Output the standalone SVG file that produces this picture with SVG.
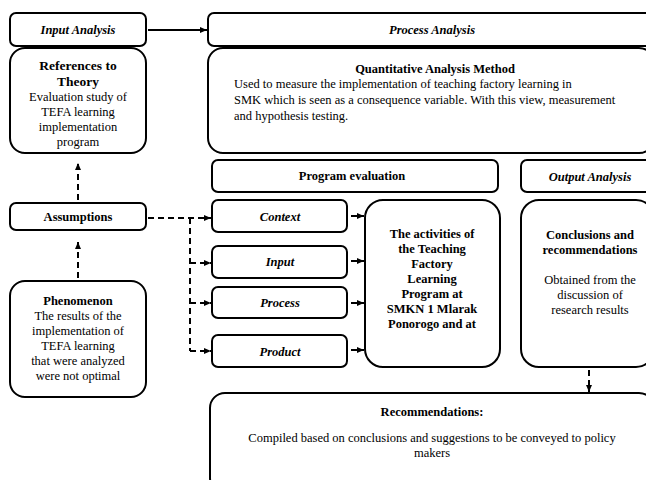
<svg xmlns="http://www.w3.org/2000/svg" width="646" height="480" viewBox="0 0 646 480">
<style>
.box{fill:#fff;stroke:#000;stroke-width:2}
text{font-family:"Liberation Serif","Times New Roman",serif;font-size:12.5px;fill:#000;text-anchor:middle}
.b{font-weight:bold}
.bi{font-weight:bold;font-style:italic}
.l{text-anchor:start}
.c{fill:none;stroke:#000;stroke-width:2}
.d{stroke-dasharray:6,4}
</style>
<defs>
<marker id="ah" markerWidth="8" markerHeight="8" refX="7" refY="4" orient="auto" markerUnits="userSpaceOnUse">
<path d="M0,1 L7,4 L0,7 Z" fill="#000"/>
</marker>
</defs>
<rect width="646" height="480" fill="#fff"/>
<g id="input-analysis"><rect class="box" x="10" y="13" width="136" height="33" rx="6"/><text class="bi" x="78" y="34">Input Analysis</text></g>
<g id="references"><rect class="box" x="10" y="48" width="136" height="105" rx="15"/>
<text class="b" x="78" y="70" style="font-size:13.5px">References to</text>
<text class="b" x="78" y="86" style="font-size:13.5px">Theory</text>
<text x="78" y="101">Evaluation study of</text>
<text x="78" y="116">TEFA learning</text>
<text x="78" y="131">implementation</text>
<text x="78" y="146">program</text></g>
<g id="process-analysis"><rect class="box" x="208" y="13" width="446" height="33" rx="6"/><text class="bi" x="432" y="34">Process Analysis</text></g>
<g id="quantitative"><rect class="box" x="208" y="48" width="446" height="105" rx="15"/>
<text class="b" x="435" y="73">Quantitative Analysis Method</text>
<text class="l" x="234" y="88">Used to measure the implementation of teaching factory learning in</text>
<text class="l" x="234" y="104">SMK which is seen as a consequence variable. With this view, measurement</text>
<text class="l" x="234" y="120">and hypothesis testing.</text></g>
<g id="program-evaluation"><rect class="box" x="212" y="160" width="286" height="32" rx="6"/><text class="b" x="352" y="180">Program evaluation</text></g>
<g id="output-analysis"><rect class="box" x="521" y="160" width="133" height="32" rx="6"/><text class="bi" x="590" y="181">Output Analysis</text></g>
<g id="assumptions"><rect class="box" x="10" y="203" width="136" height="27" rx="6"/><text class="b" x="78" y="221">Assumptions</text></g>
<g id="phenomenon"><rect class="box" x="10" y="281" width="136" height="116" rx="15"/>
<text class="b" x="78" y="305">Phenomenon</text>
<text x="78" y="320">The results of the</text>
<text x="78" y="335">implementation of</text>
<text x="78" y="350">TEFA learning</text>
<text x="78" y="365">that were analyzed</text>
<text x="78" y="380">were not optimal</text></g>
<g id="context"><rect class="box" x="212" y="200" width="135" height="32" rx="6"/><text class="bi" x="280" y="221">Context</text></g>
<g id="input"><rect class="box" x="212" y="246" width="135" height="32" rx="6"/><text class="bi" x="280" y="266">Input</text></g>
<g id="process"><rect class="box" x="212" y="287" width="135" height="31" rx="6"/><text class="bi" x="280" y="307">Process</text></g>
<g id="product"><rect class="box" x="212" y="335" width="135" height="32" rx="6"/><text class="bi" x="280" y="356">Product</text></g>
<g id="activities"><rect class="box" x="365" y="200" width="135" height="167" rx="18"/>
<text class="b" x="432" y="238">The activities of</text>
<text class="b" x="432" y="253">the Teaching</text>
<text class="b" x="432" y="268">Factory</text>
<text class="b" x="432" y="283">Learning</text>
<text class="b" x="432" y="298">Program at</text>
<text class="b" x="432" y="313">SMKN 1 Mlarak</text>
<text class="b" x="432" y="328">Ponorogo and at</text></g>
<g id="conclusions"><rect class="box" x="521" y="200" width="133" height="167" rx="18"/>
<text class="b" x="590" y="239">Conclusions and</text>
<text class="b" x="590" y="254">recommendations</text>
<text x="590" y="284">Obtained from the</text>
<text x="590" y="299">discussion of</text>
<text x="590" y="314">research results</text></g>
<g id="recommendations"><rect class="box" x="210" y="393" width="444" height="100" rx="15"/>
<text class="b" x="432" y="416">Recommendations:</text>
<text x="432" y="442">Compiled based on conclusions and suggestions to be conveyed to policy</text>
<text x="432" y="457">makers</text></g>
<g id="connectors">
<line class="c" x1="148" y1="30" x2="207" y2="30" marker-end="url(#ah)"/>
<line class="c d" x1="78" y1="200" x2="78" y2="163" marker-end="url(#ah)"/>
<line class="c d" x1="78" y1="278" x2="78" y2="242" marker-end="url(#ah)"/>
<line class="c d" x1="148" y1="218" x2="211" y2="218" marker-end="url(#ah)"/>
<polyline class="c d" points="190,218 190,351"/>
<line class="c d" x1="190" y1="263" x2="211" y2="263" marker-end="url(#ah)"/>
<line class="c d" x1="190" y1="303" x2="211" y2="303" marker-end="url(#ah)"/>
<line class="c d" x1="190" y1="351" x2="211" y2="351" marker-end="url(#ah)"/>
<line class="c" x1="351" y1="216" x2="364" y2="216" marker-end="url(#ah)"/>
<line class="c" x1="351" y1="261" x2="364" y2="261" marker-end="url(#ah)"/>
<line class="c" x1="351" y1="303" x2="364" y2="303" marker-end="url(#ah)"/>
<line class="c" x1="351" y1="350" x2="364" y2="350" marker-end="url(#ah)"/>
<line class="c d" x1="589" y1="370" x2="589" y2="392" marker-end="url(#ah)"/>
</g>
</svg>
